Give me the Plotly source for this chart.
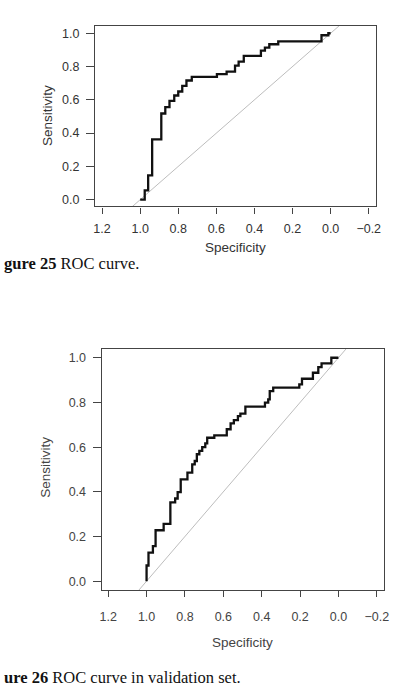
import plotly.graph_objects as go

# ---- data ----
spec_train = [1.0, 0.976, 0.958, 0.937, 0.889, 0.868, 0.846, 0.821, 0.800, 0.779, 0.757,
              0.729, 0.597, 0.546, 0.502, 0.483, 0.456, 0.366, 0.345, 0.322, 0.275,
              0.048, 0.012, 0.0]
sens_train = [0.0, 0.056, 0.146, 0.362, 0.518, 0.556, 0.594, 0.626, 0.650, 0.684, 0.716,
              0.738, 0.754, 0.770, 0.805, 0.829, 0.864, 0.896, 0.914, 0.934, 0.951,
              0.988, 1.0, 1.0]

spec_valid = [1.0, 1.0, 0.990, 0.967, 0.953, 0.911, 0.876, 0.851, 0.838, 0.822, 0.787,
              0.762, 0.749, 0.738, 0.725, 0.710, 0.694, 0.684, 0.647, 0.582, 0.562,
              0.545, 0.524, 0.511, 0.485, 0.383, 0.366, 0.358, 0.340, 0.204, 0.190,
              0.133, 0.105, 0.088, 0.037, 0.0]
sens_valid = [0.0, 0.070, 0.128, 0.157, 0.228, 0.256, 0.353, 0.370, 0.399, 0.456, 0.486,
              0.523, 0.538, 0.568, 0.583, 0.600, 0.617, 0.642, 0.653, 0.680, 0.706,
              0.721, 0.739, 0.750, 0.781, 0.799, 0.814, 0.851, 0.866, 0.881, 0.906,
              0.933, 0.958, 0.975, 1.0, 1.0]

diag_x = [1.5, -0.5]
diag_y = [-0.5, 1.5]

x_ticks = [1.2, 1.0, 0.8, 0.6, 0.4, 0.2, 0.0, -0.2]
y_ticks = [0.0, 0.2, 0.4, 0.6, 0.8, 1.0]

x_title = "Specificity"
y_title = "Sensitivity"
caption_bold = ["gure 25", "ure 26"]
caption_rest = [" ROC curve.", " ROC curve in validation set."]

W, H = 401, 689
SANS = "Liberation Sans, Arial, sans-serif"
SERIF = "Liberation Serif, Times New Roman, serif"

def px(x):
    return x / W

def py(y):
    return 1 - y / H

fig = go.Figure()

panels = [
    dict(l=95, r=381.7, t=26, b=206.7, xr=[1.2365, -0.2386], yr=[-0.0402, 1.0438],
         xs="x", ys="y", spec=spec_train, sens=sens_train, col="#333333"),
    dict(l=101.7, r=389.3, t=349.3, b=591, xr=[1.234, -0.235], yr=[-0.0402, 1.0402],
         xs="x2", ys="y2", spec=spec_valid, sens=sens_valid, col="#444444"),
]

for i, p in enumerate(panels):
    fig.add_trace(go.Scatter(x=diag_x, y=diag_y, mode="lines", xaxis=p["xs"], yaxis=p["ys"],
                             line=dict(color="#bdbdbd", width=1), hoverinfo="skip",
                             showlegend=False))
    fig.add_trace(go.Scatter(x=p["spec"], y=p["sens"], mode="lines", xaxis=p["xs"], yaxis=p["ys"],
                             line=dict(color="#111111", width=2.3, shape="hv"),
                             showlegend=False))
    sfx = "" if i == 0 else "2"
    fig.update_layout(**{
        "xaxis" + sfx: dict(domain=[px(p["l"]), px(p["r"])], range=p["xr"], anchor=p["ys"],
                            tickvals=x_ticks, tickformat=".1f", ticks="outside", ticklen=6,
                            tickwidth=1.2, tickcolor="#444", showline=True, mirror=True,
                            linecolor="#444", linewidth=1.3, showgrid=False, zeroline=False,
                            tickfont=dict(family=SANS, size=12.5, color=p["col"]),
                            ticklabelstandoff=4 if i == 0 else 9, fixedrange=True),
        "yaxis" + sfx: dict(domain=[py(p["b"]), py(p["t"])], range=p["yr"], anchor=p["xs"],
                            tickvals=y_ticks, tickformat=".1f", ticks="outside", ticklen=8,
                            tickwidth=1.2, tickcolor="#444", showline=True, mirror=True,
                            linecolor="#444", linewidth=1.3, showgrid=False, zeroline=False,
                            tickfont=dict(family=SANS, size=12.5, color=p["col"]),
                            ticklabelstandoff=4, fixedrange=True),
    })

annos = [
    (238.3, 247.5, x_title, 0, "#333333"),
    (46.7, 115.5, y_title, -90, "#333333"),
    (245.5, 643.3, x_title, 0, "#444444"),
    (45.0, 468.3, y_title, -90, "#444444"),
]
for (x, y, t, ang, c) in annos:
    fig.add_annotation(x=px(x), y=py(y), xref="paper", yref="paper", text=t, showarrow=False,
                       textangle=ang, xanchor="center", yanchor="middle",
                       font=dict(family=SANS, size=13.5, color=c))

cap_pos = [264, 678]
for b, r, y in zip(caption_bold, caption_rest, cap_pos):
    fig.add_annotation(x=0, y=py(y), xref="paper", yref="paper",
                       text="<b>" + b + "</b>" + r, showarrow=False,
                       xanchor="left", yanchor="middle",
                       font=dict(family=SERIF, size=16.5, color="#111111"))

fig.update_layout(width=W, height=H, margin=dict(l=0, r=0, t=0, b=0),
                  paper_bgcolor="white", plot_bgcolor="white", showlegend=False)

fig.write_html("out.html")
